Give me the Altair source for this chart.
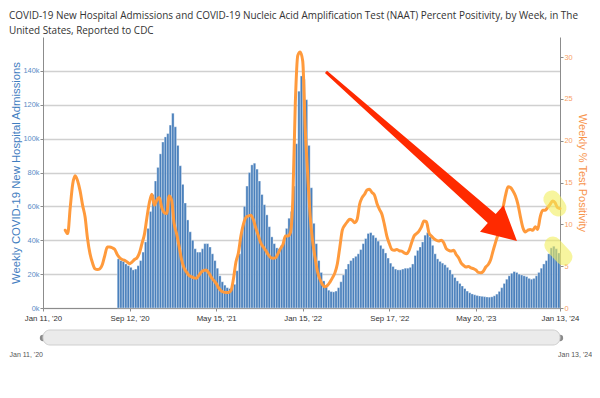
import altair as alt
import pandas as pd

# ---------------- data ----------------
START_DATE = "2020-01-11"
END_DATE = "2024-01-13"
TICK_DATES = ["2020-01-11", "2020-09-12", "2021-05-15", "2022-01-15",
              "2022-09-17", "2023-05-20", "2024-01-13"]

# weekly new hospital admissions (thousands), one bar per week starting at week index 30
ADMISSIONS_FIRST_WEEK = 30
ADMISSIONS_K = [
    29, 28, 27.5, 26, 25, 24, 22.5, 23, 25, 28,          # w30-39
    33, 39, 47, 57, 67, 75, 83, 91, 98, 101,             # w40-49
    103, 108, 115, 107, 96, 84, 73, 62, 52, 45,          # w50-59
    40, 35, 33, 33, 35, 38, 38, 36, 32, 28,              # w60-69
    23.5, 19, 15.5, 13.5, 12, 11.5, 11.5, 14, 22, 32,    # w70-79
    45, 60, 72, 80, 84.5, 85.5, 82, 75, 67, 61,          # w80-89
    55, 48, 42, 38, 35.5, 35, 37, 41, 47, 53,            # w90-99
    57, 72, 97, 128, 137, 135, 123, 96, 71, 50,          # w100-109
    38, 28, 21, 16, 12.5, 10.5, 9.7, 9.5, 10, 12,        # w110-119
    15.5, 19.5, 23, 26, 28, 29.5, 30.5, 32, 34.5, 38,    # w120-129
    41, 44, 44.5, 43, 41.5, 39.5, 37, 35, 32.5, 29.5,    # w130-139
    26.5, 24.5, 23, 22.5, 22.5, 23, 23.5, 23.5, 24, 26,  # w140-149
    31, 34, 36, 39, 43, 44.5, 42, 37, 32, 29,            # w150-159
    27.5, 26.5, 25.5, 24, 22.5, 20, 18, 16, 14.5, 13,    # w160-169
    11.5, 10, 9, 8.3, 7.8, 7.4, 7.1, 6.9, 6.7, 6.5,      # w170-179
    6.4, 6.6, 7.2, 8.2, 9.8, 12, 14.5, 17, 19, 20.5,     # w180-189
    21.5, 21, 20, 19.5, 19, 18.5, 17.5, 17, 17.5, 19,    # w190-199
    21, 23.5, 26, 28, 32, 35.5, 36.5, 35, 32.5,          # w200-208
]

# weekly NAAT percent positivity, starting at week index 9
POSITIVITY_FIRST_WEEK = 9
POSITIVITY = [
    9.3,                                                  # w9
    8.9, 12.0, 14.8, 15.8, 15.2, 14.0, 12.3, 10.9, 8.3, 6.5,        # w10-19
    5.4, 4.7, 4.6, 4.7, 5.2, 6.3, 7.3, 7.3, 7.2, 7.0,               # w20-29
    6.4, 6.0, 5.8, 5.7, 5.5, 5.3, 5.5, 5.8, 6.0, 6.6,               # w30-39
    7.7, 8.8, 10.8, 12.6, 13.6, 12.3, 12.9, 13.2, 12.0, 11.4,       # w40-49
    11.3, 13.4, 12.9, 10.1, 8.9, 7.4, 5.8, 4.8, 4.3, 3.9,           # w50-59
    3.75, 3.6, 3.55, 3.9, 4.3, 4.5, 4.55, 4.2, 3.7, 3.3,            # w60-69
    2.95, 2.4, 2.05, 1.9, 1.85, 1.85, 2.1, 3.5, 5.5, 6.6,           # w70-79
    8.6, 10.0, 10.8, 11.0, 11.1, 10.6, 9.6, 8.7, 7.8, 7.3,          # w80-89
    6.9, 6.4, 6.05, 5.95, 6.0, 6.5, 7.1, 7.6, 8.6, 8.6,             # w90-99
    9.0, 13.0, 24.5, 30.2, 30.6, 29.5, 21.5, 16.0, 11.0, 8.0,       # w100-109
    6.0, 4.3, 3.4, 2.8, 2.55, 2.7, 3.1, 3.6, 4.2, 5.3,              # w110-119
    7.3, 9.3, 9.9, 10.3, 10.6, 10.5, 10.2, 10.6, 12.4, 13.2,        # w120-129
    13.6, 14.1, 14.2, 13.8, 13.5, 12.5, 11.8, 11.2, 10.0, 8.6,      # w130-139
    7.7, 7.0, 6.9, 7.0, 6.85, 6.8, 6.6, 6.5, 6.9, 7.8,              # w140-149
    8.6, 8.9, 9.2, 9.7, 10.4, 10.3, 9.0, 8.6, 8.3, 8.1,             # w150-159
    8.0, 8.1, 7.8, 7.1, 6.9, 6.8, 6.9, 6.4, 6.0, 5.4,               # w160-169
    5.1, 4.9, 4.95, 4.8, 4.7, 4.55, 4.25, 4.2, 4.4, 4.9,            # w170-179
    5.2, 5.8, 6.9, 7.9, 8.9, 10.3, 12.0, 13.5, 14.5, 14.4,          # w180-189
    14.0, 13.4, 12.4, 10.9, 9.6, 9.1, 9.3, 9.4, 9.3, 9.7,           # w190-199
    9.4, 10.9, 11.7, 11.7, 12.0, 12.4, 12.8, 12.6, 12.0, 11.9,      # w200-209
]

LEFT_TICKS = [0, 20000, 40000, 60000, 80000, 100000, 120000, 140000]
RIGHT_TICKS = [0, 5, 10, 15, 20, 25, 30]
LEFT_MAX = 160000
RIGHT_MAX = 32.4

# annotations (added on top of the chart): red arrow and yellow highlights
ARROW_WEEK = [153.0]
ARROW_VALUE = [89500]
HIGHLIGHT_ID = [0, 0, 1, 1]
HIGHLIGHT_WEEK = [205.7, 208.2, 206.1, 210.6]
HIGHLIGHT_VALUE = [64400, 59100, 37200, 30100]

TITLE_LINES = [
    "COVID-19 New Hospital Admissions and COVID-19 Nucleic Acid Amplification Test (NAAT) Percent Positivity, by Week, in The",
    "United States, Reported to CDC",
]
LEFT_TITLE = "Weekly COVID-19 New Hospital Admissions"
RIGHT_TITLE = "Weekly % Test Positivity"
SLIDER_LABELS = ["Jan 11, '20", "Jan 13, '24"]

# ---------------- helpers ----------------
DAY_MS = 86400000
START_MS = pd.Timestamp(START_DATE, tz="UTC").value // 10**6
END_MS = pd.Timestamp(END_DATE, tz="UTC").value // 10**6


def week_ms(w):
    return START_MS + w * 7 * DAY_MS


tick_ms = [pd.Timestamp(d, tz="UTC").value // 10**6 for d in TICK_DATES]

bars_df = pd.DataFrame({
    "start": [week_ms(ADMISSIONS_FIRST_WEEK + i) for i in range(len(ADMISSIONS_K))],
    "end": [week_ms(ADMISSIONS_FIRST_WEEK + i + 1) for i in range(len(ADMISSIONS_K))],
    "value": [v * 1000 for v in ADMISSIONS_K],
})
pos_df = pd.DataFrame({
    "date": [week_ms(POSITIVITY_FIRST_WEEK + i) for i in range(len(POSITIVITY))],
    "pos": POSITIVITY,
})
arrow_df = pd.DataFrame({"date": [week_ms(w) for w in ARROW_WEEK], "value": ARROW_VALUE})
hl_df = pd.DataFrame({"id": HIGHLIGHT_ID,
                      "date": [week_ms(w) for w in HIGHLIGHT_WEEK],
                      "value": HIGHLIGHT_VALUE})
slider_df = pd.DataFrame({"start": [START_MS], "end": [END_MS]})
slider_lab_df = pd.DataFrame({"date": [START_MS, END_MS], "label": SLIDER_LABELS})

# ---------------- styles ----------------
W, H = 517, 271
BAR_FILL = "#4a80bc"
BAR_STROKE = "#ffffff"
LINE_COLOR = "#ff9a3c"
BLUE_TXT = "#3f7dbf"
ORANGE_TXT = "#f7924a"
AXIS_GRAY = "#8c8c8c"
FONT = "Liberation Sans"

x_scale = alt.Scale(type="utc", domain=[START_MS, END_MS])
left_scale = alt.Scale(domain=[0, LEFT_MAX], nice=False, zero=True)
right_scale = alt.Scale(domain=[0, RIGHT_MAX], nice=False, zero=True)

x_axis = alt.Axis(values=tick_ms, labelExpr="utcFormat(datum.value, \"%b %d, '%y\")",
                  labelFont=FONT, labelFontSize=7.8, labelColor="#333333",
                  labelFlush=False, labelOverlap=False, labelPadding=3,
                  domainColor=AXIS_GRAY, tickColor=AXIS_GRAY, tickSize=3, grid=False)

left_axis = alt.Axis(values=LEFT_TICKS, format="~s", labelFont=FONT, labelFontSize=7.4,
                     labelColor="#5a8cc6", labelPadding=1,
                     title=LEFT_TITLE, titleFont=FONT, titleFontSize=11.3,
                     titleFontWeight="normal", titleColor=BLUE_TXT,
                     titleAngle=270, titleBaseline="middle", titleAlign="center",
                     titleX=-27, titleY=H / 2,
                     grid=True, gridColor="#d0d0d0", gridWidth=1.4,
                     domainColor=AXIS_GRAY, tickColor=AXIS_GRAY, tickSize=3)

right_axis = alt.Axis(orient="right", values=RIGHT_TICKS, labelFont=FONT, labelFontSize=7.4,
                      labelColor="#f8a066", labelPadding=1,
                      title=RIGHT_TITLE, titleFont=FONT, titleFontSize=11,
                      titleFontWeight="normal", titleColor=ORANGE_TXT,
                      titleAngle=90, titleBaseline="middle", titleAlign="center",
                      titleX=21, titleY=H / 2,
                      grid=False, domainColor=AXIS_GRAY, tickColor=AXIS_GRAY, tickSize=3)

# ---------------- layers ----------------
slider_handles = alt.Chart(slider_lab_df).mark_point(
    shape="circle", filled=True, color="#8a8a8a", size=40, opacity=1
).encode(x=alt.X("date:T", scale=x_scale), y=alt.value(H + 30))

slider = alt.Chart(slider_df).mark_rect(
    fill="#ebebeb", stroke="#cfcfcf", strokeWidth=1, cornerRadius=7
).encode(x=alt.X("start:T", scale=x_scale), x2="end:T",
         y=alt.value(H + 22), y2=alt.value(H + 37))

slider_left = alt.Chart(slider_lab_df.iloc[[0]]).mark_text(
    align="right", baseline="middle", font=FONT, fontSize=7, color="#555555"
).encode(x=alt.X("date:T", scale=x_scale), y=alt.value(H + 47), text="label:N")

slider_right = alt.Chart(slider_lab_df.iloc[[1]]).mark_text(
    align="left", baseline="middle", font=FONT, fontSize=7, color="#555555", dx=-2
).encode(x=alt.X("date:T", scale=x_scale), y=alt.value(H + 47), text="label:N")

bars = alt.Chart(bars_df).mark_bar(
    fill=BAR_FILL, stroke=BAR_STROKE, strokeWidth=0.35
).encode(
    x=alt.X("start:T", scale=x_scale, axis=x_axis, title=None),
    x2="end:T",
    y=alt.Y("value:Q", scale=left_scale, axis=left_axis),
    y2=alt.datum(0),
)

left_layer = alt.layer(slider_handles, slider, slider_left, slider_right, bars)

line = alt.Chart(pos_df).mark_line(
    color=LINE_COLOR, strokeWidth=3, interpolate="monotone", strokeJoin="round", strokeCap="round"
).encode(
    x=alt.X("date:T", scale=x_scale),
    y=alt.Y("pos:Q", scale=right_scale, axis=right_axis),
)

ARROW_PATH = ("M -0.012 1 L 0.012 1 L 0.047 -0.736 L 0.139 -0.736 "
              "L 0 -1 L -0.139 -0.736 L -0.047 -0.736 Z")
arrow = alt.Chart(arrow_df).mark_point(
    shape=ARROW_PATH, size=65025, filled=True, color="#ff2a00", opacity=1,
    angle=131.5, strokeWidth=0
).encode(x=alt.X("date:T", scale=x_scale),
         y=alt.Y("value:Q", scale=left_scale, axis=None))

highlights = alt.Chart(hl_df).mark_line(
    color="#f2ee5e", opacity=0.6, strokeWidth=17, strokeCap="round"
).encode(x=alt.X("date:T", scale=x_scale),
         y=alt.Y("value:Q", scale=left_scale, axis=None),
         detail="id:N")

annotations = alt.layer(arrow, highlights)

chart = alt.layer(left_layer, line, annotations).resolve_scale(
    y="independent"
).properties(
    width=W, height=H,
    autosize=alt.AutoSizeParams(type="none"),
    padding={"left": 35, "top": 29, "right": 32, "bottom": 60},
    title=alt.TitleParams(text=TITLE_LINES, anchor="start", frame="group", dx=-34, dy=7,
                          font="Open Sans", fontSize=9.95, fontWeight="normal",
                          color="#333333", lineHeight=15, offset=8),
).configure_view(stroke=None)

chart.save("out.html", embed_options={"renderer": "svg", "actions": False})
